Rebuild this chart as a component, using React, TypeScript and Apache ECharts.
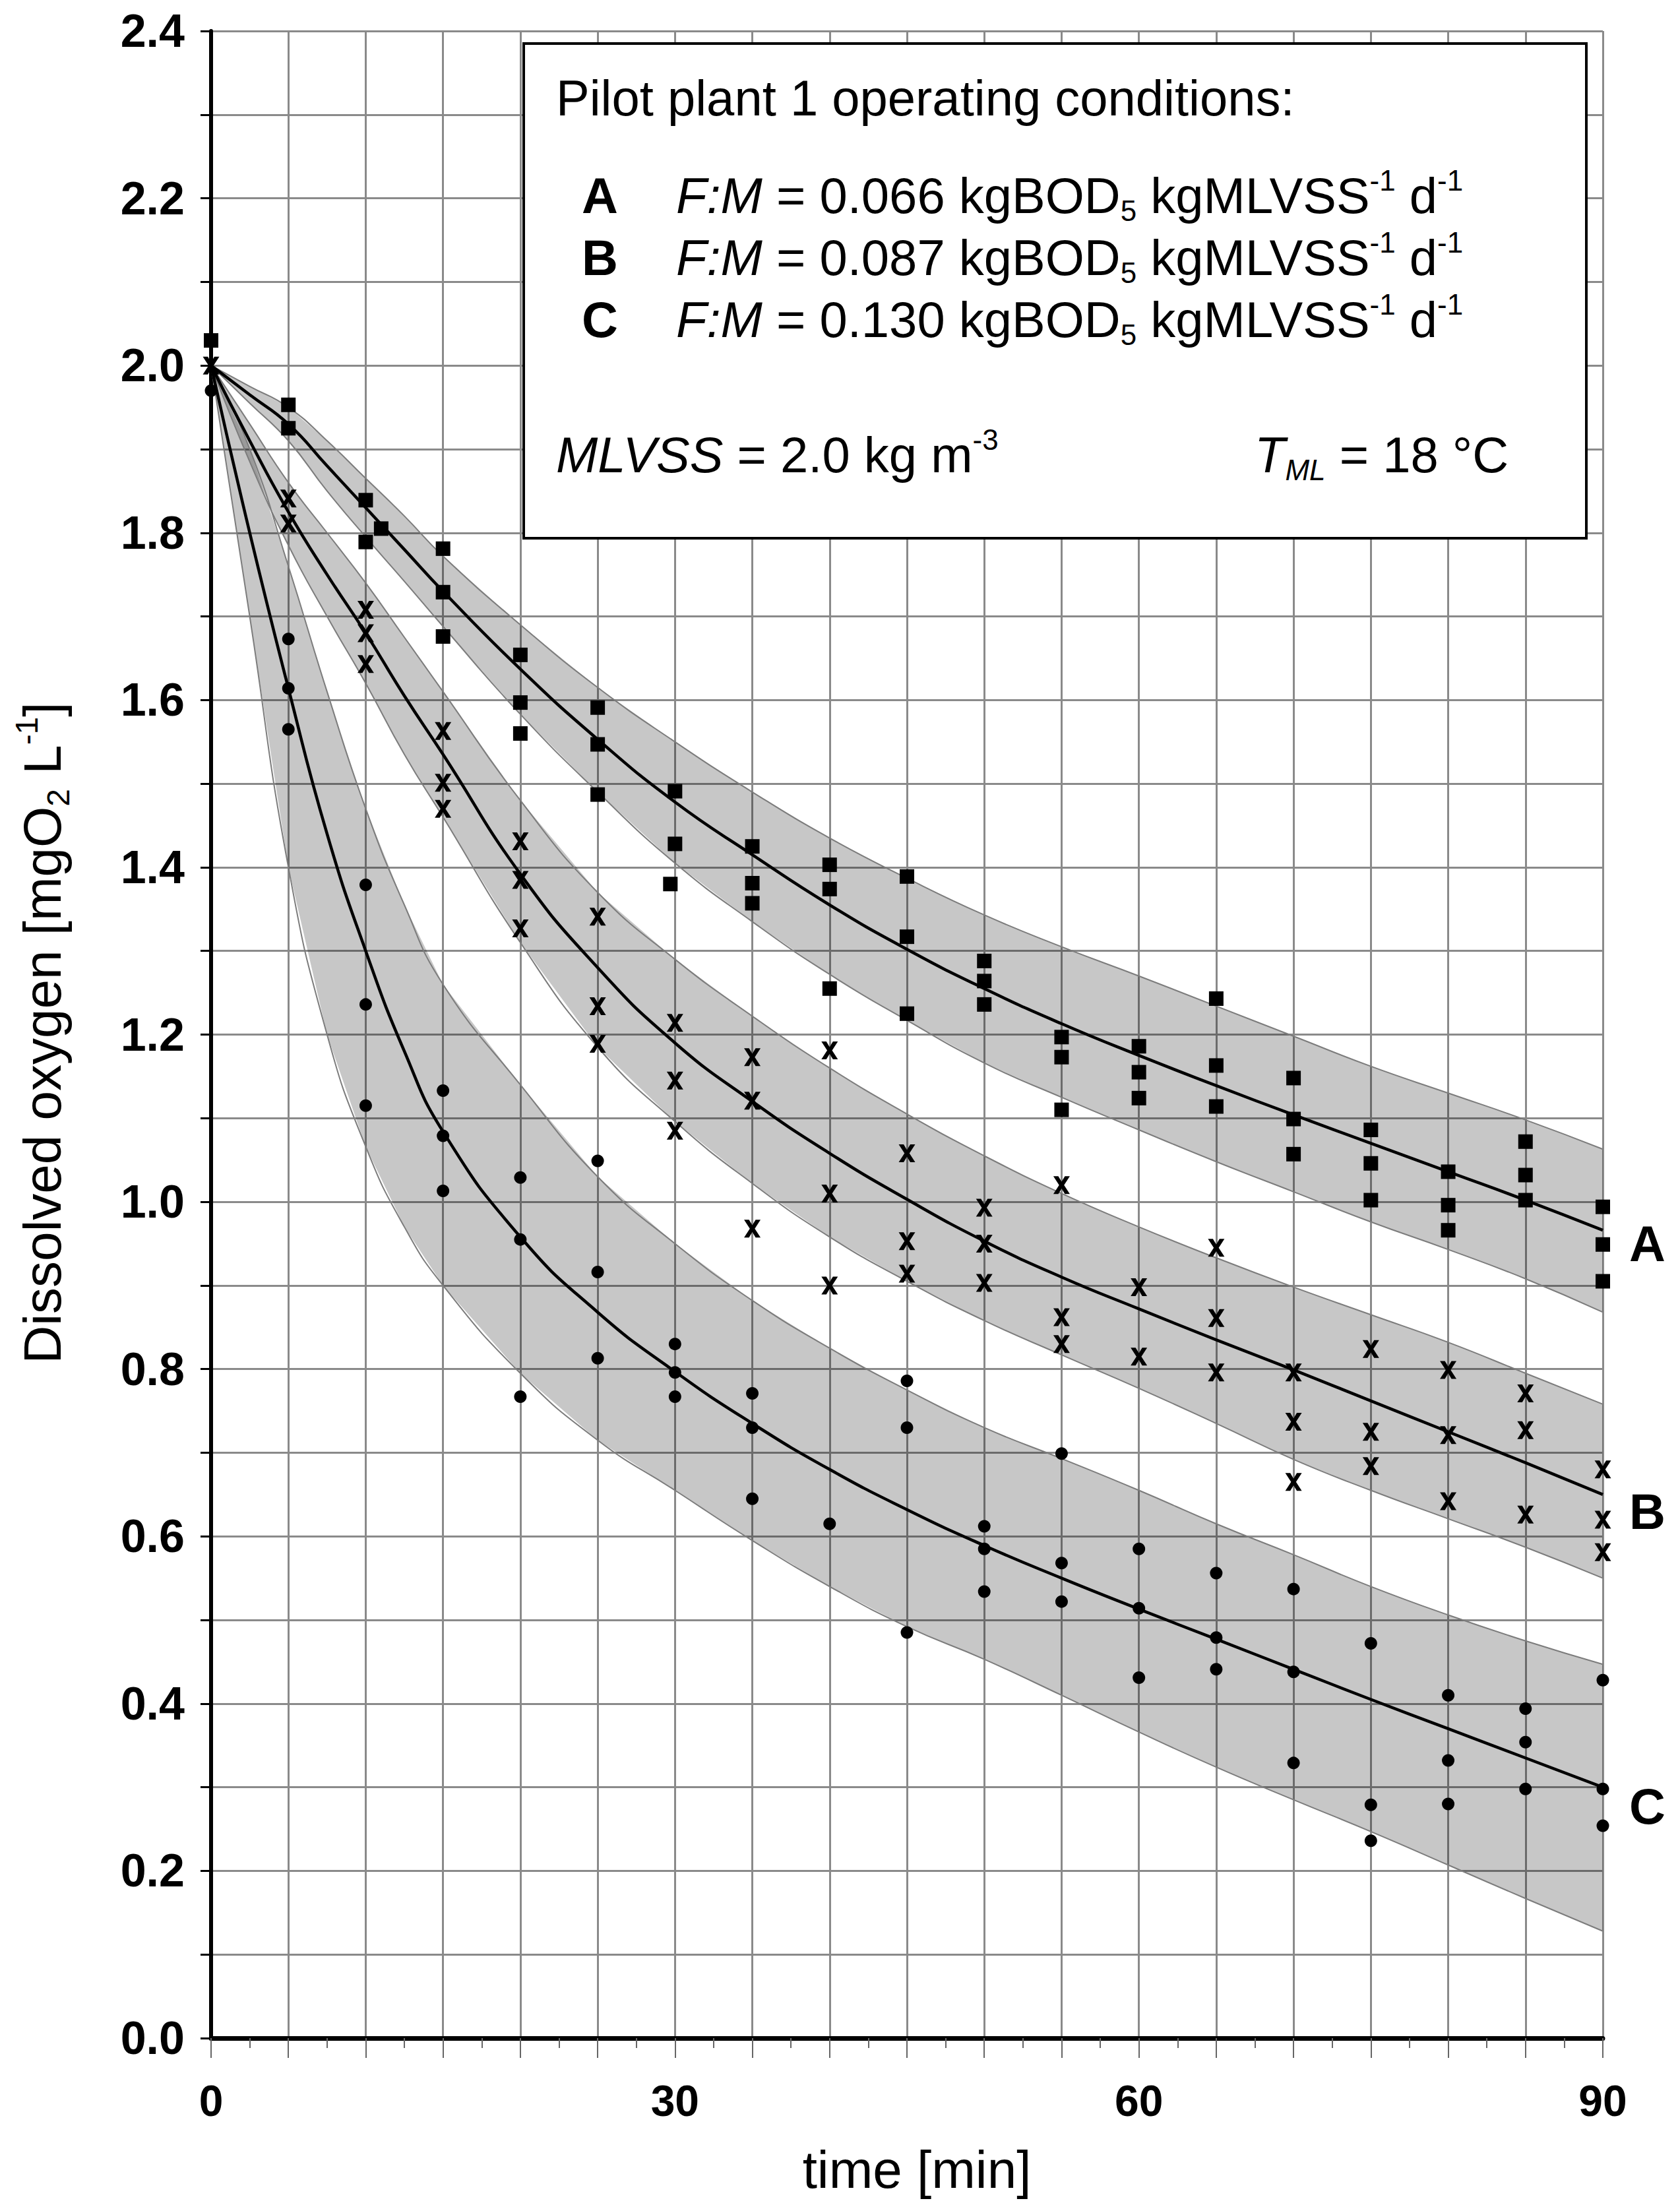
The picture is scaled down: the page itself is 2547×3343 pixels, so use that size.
import React, { useEffect, useRef } from "react";
import * as echarts from "echarts";

const FONT = "'Liberation Sans', Arial, Helvetica, sans-serif";

// time grid of the fitted curves and their bands [min]
const fitT = [0, 2.5, 5, 7.5, 10, 12.5, 15, 20, 25, 30, 35, 40, 45, 50, 55, 60, 65, 70, 75, 80, 85, 90];

// fitted curves [mgO2/L]
const fitA = [2.0, 1.965, 1.93, 1.88, 1.83, 1.78, 1.73, 1.637, 1.553, 1.478, 1.415, 1.355, 1.302, 1.255, 1.213, 1.175, 1.139, 1.104, 1.07, 1.036, 1.002, 0.966];
const fitB = [2.0, 1.91, 1.825, 1.75, 1.68, 1.605, 1.535, 1.392, 1.28, 1.19, 1.12, 1.058, 1.003, 0.953, 0.91, 0.872, 0.835, 0.799, 0.762, 0.725, 0.688, 0.65];
const fitC = [2.0, 1.8, 1.614, 1.44, 1.3, 1.18, 1.084, 0.958, 0.868, 0.797, 0.735, 0.68, 0.632, 0.589, 0.55, 0.513, 0.477, 0.441, 0.405, 0.37, 0.335, 0.3];

// grey bands around the curves
const upperA = [2.0, 1.975, 1.95, 1.91, 1.865, 1.82, 1.772, 1.69, 1.615, 1.55, 1.49, 1.435, 1.387, 1.343, 1.305, 1.27, 1.234, 1.198, 1.162, 1.13, 1.098, 1.063];
const lowerA = [2.0, 1.955, 1.91, 1.85, 1.795, 1.742, 1.688, 1.583, 1.49, 1.405, 1.335, 1.272, 1.217, 1.166, 1.125, 1.086, 1.048, 1.012, 0.976, 0.943, 0.908, 0.868];
const upperB = [2.0, 1.93, 1.86, 1.8, 1.74, 1.675, 1.61, 1.48, 1.37, 1.29, 1.222, 1.16, 1.105, 1.055, 1.01, 0.97, 0.933, 0.898, 0.865, 0.832, 0.795, 0.758];
const lowerB = [2.0, 1.885, 1.785, 1.7, 1.62, 1.535, 1.46, 1.31, 1.185, 1.096, 1.022, 0.958, 0.905, 0.858, 0.817, 0.777, 0.735, 0.692, 0.655, 0.621, 0.587, 0.55];
const upperC = [2.0, 1.9, 1.76, 1.61, 1.47, 1.355, 1.26, 1.14, 1.03, 0.95, 0.882, 0.825, 0.775, 0.73, 0.693, 0.655, 0.615, 0.578, 0.54, 0.506, 0.475, 0.447];
const lowerC = [2.0, 1.7, 1.4, 1.2, 1.066, 0.97, 0.9, 0.795, 0.715, 0.655, 0.595, 0.54, 0.492, 0.453, 0.41, 0.366, 0.324, 0.285, 0.247, 0.207, 0.167, 0.128];

// measured points [time, DO]
const pointsA = [
  [0, 2.03],
  [5, 1.953], [5, 1.925],
  [10, 1.839], [11, 1.805], [10, 1.789],
  [15, 1.781], [15, 1.729], [15, 1.676],
  [20, 1.654], [20, 1.597], [20, 1.56],
  [25, 1.591], [25, 1.547], [25, 1.487],
  [30, 1.491], [30, 1.428], [29.7, 1.38],
  [35, 1.425], [35, 1.381], [35, 1.357],
  [40, 1.403], [40, 1.374], [40, 1.255],
  [45, 1.389], [45, 1.317], [45, 1.225],
  [50, 1.288], [50, 1.264], [50, 1.236],
  [55, 1.197], [55, 1.173], [55, 1.11],
  [60, 1.186], [60, 1.155], [60, 1.124],
  [65, 1.243], [65, 1.163], [65, 1.114],
  [70, 1.148], [70, 1.099], [70, 1.057],
  [75, 1.086], [75, 1.046], [75, 1.002],
  [80, 1.036], [80, 0.996], [80, 0.966],
  [85, 1.072], [85, 1.032], [85, 1.002],
  [90, 0.994], [90, 0.949], [90, 0.905],
];
const pointsB = [
  [0, 2.0],
  [5, 1.841], [5, 1.811],
  [10, 1.708], [10, 1.68], [10, 1.643],
  [15, 1.563], [15, 1.501], [15, 1.47],
  [20, 1.431], [20, 1.385], [20, 1.327],
  [25, 1.341], [25, 1.234], [25, 1.189],
  [30, 1.214], [30, 1.145], [30, 1.085],
  [35, 1.173], [35, 1.121], [35, 0.968],
  [40, 1.181], [40, 1.01], [40, 0.9],
  [45, 1.058], [45, 0.953], [45, 0.914],
  [50, 0.993], [50, 0.95], [50, 0.903],
  [55, 1.02], [55, 0.862], [55, 0.83],
  [60, 0.898], [60, 0.815],
  [65, 0.945], [65, 0.861], [65, 0.796],
  [70, 0.796], [70, 0.737], [70, 0.665],
  [75, 0.824], [75, 0.725], [75, 0.684],
  [80, 0.799], [80, 0.721], [80, 0.642],
  [85, 0.771], [85, 0.727], [85, 0.626],
  [90, 0.68], [90, 0.62], [90, 0.581],
];
const pointsC = [
  [0, 1.97],
  [5, 1.673], [5, 1.614], [5, 1.565],
  [10, 1.379], [10, 1.236], [10, 1.115],
  [15, 1.133], [15, 1.079], [15, 1.013],
  [20, 1.029], [20, 0.955], [20, 0.767],
  [25, 1.049], [25, 0.916], [25, 0.813],
  [30, 0.83], [30, 0.796], [30, 0.767],
  [35, 0.771], [35, 0.73], [35, 0.645],
  [40, 0.615],
  [45, 0.786], [45, 0.73], [45, 0.485],
  [50, 0.612], [50, 0.585], [50, 0.534],
  [55, 0.699], [55, 0.568], [55, 0.522],
  [60, 0.585], [60, 0.514], [60, 0.431],
  [65, 0.556], [65, 0.479], [65, 0.441],
  [70, 0.537], [70, 0.438], [70, 0.329],
  [75, 0.472], [75, 0.279], [75, 0.236],
  [80, 0.41], [80, 0.332], [80, 0.28],
  [85, 0.394], [85, 0.354], [85, 0.298],
  [90, 0.428], [90, 0.298], [90, 0.254],
];

// curve labels at the right end
const curveNames = ["A", "B", "C"];
const curveLabelY = [0.95, 0.63, 0.277];
const fmValues = ["0.066", "0.087", "0.130"];

const xTickLabels = [0, 30, 60, 90];
const yTickLabels = ["0.0", "0.2", "0.4", "0.6", "0.8", "1.0", "1.2", "1.4", "1.6", "1.8", "2.0", "2.2", "2.4"];

// bold "x" marker outline
const X_MARK = "path://M0,0L30,0L50,34L70,0L100,0L65,55L100,110L70,110L50,76L30,110L0,110L35,55Z";

const pairs = (xs: number[], ys: number[]) => xs.map((x, i) => [x, ys[i]]);

const edgeSeries = (data: number[]) => ({
  type: "line",
  data: pairs(fitT, data),
  smooth: true,
  symbol: "none",
  silent: true,
  lineStyle: { color: "#7c7c7c", width: 2 },
  z: 2,
});

const bandSeries = (lower: number[], upper: number[]) => [
  {
    type: "custom",
    data: [[0, 0]],
    silent: true,
    z: 1,
    renderItem: (_params: any, api: any) => {
      const top = fitT.map((t, i) => api.coord([t, upper[i]]));
      const bottom = fitT.map((t, i) => api.coord([t, lower[i]])).reverse();
      return {
        type: "polygon",
        shape: { points: top.concat(bottom) },
        style: { fill: "rgba(0,0,0,0.22)", stroke: "none" },
      };
    },
  },
  edgeSeries(upper),
  edgeSeries(lower),
];

const fitSeries = (data: number[]) => ({
  type: "line",
  data: pairs(fitT, data),
  smooth: true,
  symbol: "none",
  silent: true,
  lineStyle: { color: "#000", width: 4.5 },
  z: 3,
});

const base = { fontFamily: FONT, fontSize: 76, lineHeight: 90 };
const rich = {
  i: { ...base, fontStyle: "italic" },
  b: { ...base, fontWeight: "bold" },
  sup: { fontFamily: FONT, fontSize: 44, lineHeight: 60, verticalAlign: "top" },
  sub: { fontFamily: FONT, fontSize: 44, lineHeight: 40, verticalAlign: "bottom" },
  isub: { fontFamily: FONT, fontSize: 44, lineHeight: 40, verticalAlign: "bottom", fontStyle: "italic" },
};

const boxText = (x: number, y: number, text: string, extra: any = {}) => ({
  type: "text",
  x,
  y,
  z: 11,
  style: {
    text,
    rich,
    ...base,
    fill: "#000",
    align: "left",
    verticalAlign: "middle",
    ...extra,
  },
});

const App = () => {
  const chartRef = useRef<HTMLDivElement>(null);

  useEffect(() => {
    const chart = echarts.init(chartRef.current as HTMLDivElement, undefined, { renderer: "svg" });

    const option = {
      animation: false,
      backgroundColor: "#fff",
      textStyle: { fontFamily: FONT },
      grid: { left: 320, right: 117, top: 47, bottom: 253 },
      xAxis: {
        type: "value",
        min: 0,
        max: 90,
        interval: 5,
        axisLine: { show: true, onZero: false, lineStyle: { color: "#000", width: 7 } },
        axisTick: { show: true, length: 30, lineStyle: { color: "#666", width: 2 } },
        minorTick: { show: true, splitNumber: 2, length: 15, lineStyle: { color: "#666", width: 2 } },
        axisLabel: {
          formatter: (v: number) => (xTickLabels.includes(v) ? String(v) : ""),
          fontSize: 66,
          fontWeight: "bold",
          fontFamily: FONT,
          color: "#000",
          margin: 62,
        },
        splitLine: { show: true, lineStyle: { color: "#8a8a8a", width: 3 } },
      },
      yAxis: {
        type: "value",
        min: 0,
        max: 2.4,
        interval: 0.1,
        axisLine: { show: true, onZero: false, lineStyle: { color: "#000", width: 6 } },
        axisTick: { show: true, length: 16, lineStyle: { color: "#000", width: 3 } },
        axisLabel: {
          formatter: (v: number) => (yTickLabels.includes(v.toFixed(1)) ? v.toFixed(1) : ""),
          fontSize: 70,
          fontWeight: "bold",
          fontFamily: FONT,
          color: "#000",
          margin: 40,
        },
        splitLine: { show: true, lineStyle: { color: "#8a8a8a", width: 3 } },
      },
      series: [
        ...bandSeries(lowerA, upperA),
        ...bandSeries(lowerB, upperB),
        ...bandSeries(lowerC, upperC),
        fitSeries(fitA),
        fitSeries(fitB),
        fitSeries(fitC),
        {
          type: "scatter",
          data: pointsA,
          symbol: "rect",
          symbolSize: 22,
          itemStyle: { color: "#000", opacity: 1 },
          clip: false,
          z: 4,
        },
        {
          type: "scatter",
          data: pointsB,
          symbol: X_MARK,
          symbolSize: [25, 27],
          itemStyle: { color: "#000", opacity: 1 },
          clip: false,
          z: 4,
        },
        {
          type: "scatter",
          data: pointsC,
          symbol: "circle",
          symbolSize: 19,
          itemStyle: { color: "#000", opacity: 1 },
          clip: false,
          z: 4,
        },
        {
          type: "scatter",
          data: curveNames.map((n, i) => ({ name: n, value: [90, curveLabelY[i]] })),
          symbolSize: 0.1,
          itemStyle: { color: "#000", opacity: 1 },
          clip: false,
          label: {
            show: true,
            formatter: (p: any) => p.name,
            position: "right",
            distance: 40,
            fontSize: 76,
            fontWeight: "bold",
            fontFamily: FONT,
            color: "#000",
            opacity: 1,
          },
          z: 5,
        },
      ],
      graphic: [
        {
          type: "rect",
          shape: { x: 794, y: 66, width: 1611, height: 750 },
          style: { fill: "#fff", stroke: "#000", lineWidth: 4 },
          z: 10,
        },
        boxText(843, 148, "Pilot plant 1 operating conditions:"),
        ...curveNames.map((n, i) => boxText(882, 296 + i * 94, n, { fontWeight: "bold" })),
        ...fmValues.map((v, i) =>
          boxText(1025, 296 + i * 94, `{i|F:M} = ${v} kgBOD{sub|5} kgMLVSS{sup|-1} d{sup|-1}`)
        ),
        boxText(843, 689, "{i|MLVSS} = 2.0 kg m{sup|-3}"),
        boxText(1902, 689, "{i|T}{isub|ML} = 18 °C"),
        {
          type: "text",
          x: 64,
          y: 1566,
          rotation: Math.PI / 2,
          style: {
            text: "Dissolved oxygen [mgO{sub|2} L{sup|-1}]",
            rich: {
              sup: { fontFamily: FONT, fontSize: 48, lineHeight: 64, verticalAlign: "top" },
              sub: { fontFamily: FONT, fontSize: 48, lineHeight: 44, verticalAlign: "bottom" },
            },
            fontFamily: FONT,
            fontSize: 80,
            lineHeight: 96,
            fill: "#000",
            align: "center",
            verticalAlign: "middle",
          },
        },
        {
          type: "text",
          x: 1390,
          y: 3289,
          style: {
            text: "time [min]",
            fontFamily: FONT,
            fontSize: 80,
            fill: "#000",
            align: "center",
            verticalAlign: "middle",
          },
        },
      ],
    };

    chart.setOption(option as any);

    return () => {
      chart.dispose();
    };
  }, []);

  return (
    <div
      ref={chartRef}
      style={{ position: "absolute", left: 0, top: 0, width: "2547px", height: "3343px" }}
    />
  );
};

export default App;
